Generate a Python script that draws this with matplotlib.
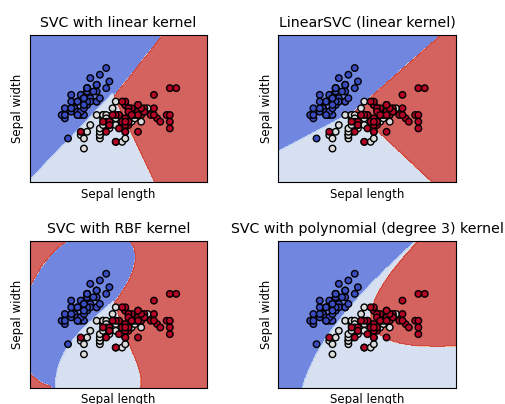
import numpy as np
import matplotlib
matplotlib.use("Agg")
import matplotlib.pyplot as plt

# iris data set, first two features (sepal length, sepal width)
setosa_length = [5.1, 4.9, 4.7, 4.6, 5.0, 5.4, 4.6, 5.0, 4.4, 4.9,
                 5.4, 4.8, 4.8, 4.3, 5.8, 5.7, 5.4, 5.1, 5.7, 5.1,
                 5.4, 5.1, 4.6, 5.1, 4.8, 5.0, 5.0, 5.2, 5.2, 4.7,
                 4.8, 5.4, 5.2, 5.5, 4.9, 5.0, 5.5, 4.9, 4.4, 5.1,
                 5.0, 4.5, 4.4, 5.0, 5.1, 4.8, 5.1, 4.6, 5.3, 5.0]
setosa_width = [3.5, 3.0, 3.2, 3.1, 3.6, 3.9, 3.4, 3.4, 2.9, 3.1,
                3.7, 3.4, 3.0, 3.0, 4.0, 4.4, 3.9, 3.5, 3.8, 3.8,
                3.4, 3.7, 3.6, 3.3, 3.4, 3.0, 3.4, 3.5, 3.4, 3.2,
                3.1, 3.4, 4.1, 4.2, 3.1, 3.2, 3.5, 3.6, 3.0, 3.4,
                3.5, 2.3, 3.2, 3.5, 3.8, 3.0, 3.8, 3.2, 3.7, 3.3]
versicolor_length = [7.0, 6.4, 6.9, 5.5, 6.5, 5.7, 6.3, 4.9, 6.6, 5.2,
                     5.0, 5.9, 6.0, 6.1, 5.6, 6.7, 5.6, 5.8, 6.2, 5.6,
                     5.9, 6.1, 6.3, 6.1, 6.4, 6.6, 6.8, 6.7, 6.0, 5.7,
                     5.5, 5.5, 5.8, 6.0, 5.4, 6.0, 6.7, 6.3, 5.6, 5.5,
                     5.5, 6.1, 5.8, 5.0, 5.6, 5.7, 5.7, 6.2, 5.1, 5.7]
versicolor_width = [3.2, 3.2, 3.1, 2.3, 2.8, 2.8, 3.3, 2.4, 2.9, 2.7,
                    2.0, 3.0, 2.2, 2.9, 2.9, 3.1, 3.0, 2.7, 2.2, 2.5,
                    3.2, 2.8, 2.5, 2.8, 2.9, 3.0, 2.8, 3.0, 2.9, 2.6,
                    2.4, 2.4, 2.7, 2.7, 3.0, 3.4, 3.1, 2.3, 3.0, 2.5,
                    2.6, 3.0, 2.6, 2.3, 2.7, 3.0, 2.9, 2.9, 2.5, 2.8]
virginica_length = [6.3, 5.8, 7.1, 6.3, 6.5, 7.6, 4.9, 7.3, 6.7, 7.2,
                    6.5, 6.4, 6.8, 5.7, 5.8, 6.4, 6.5, 7.7, 7.7, 6.0,
                    6.9, 5.6, 7.7, 6.3, 6.7, 7.2, 6.2, 6.1, 6.4, 7.2,
                    7.4, 7.9, 6.4, 6.3, 6.1, 7.7, 6.3, 6.4, 6.0, 6.9,
                    6.7, 6.9, 5.8, 6.8, 6.7, 6.7, 6.3, 6.5, 6.2, 5.9]
virginica_width = [3.3, 2.7, 3.0, 2.9, 3.0, 3.0, 2.5, 2.9, 2.5, 3.6,
                   3.2, 2.7, 3.0, 2.5, 2.8, 3.2, 3.0, 3.8, 2.6, 2.2,
                   3.2, 2.8, 2.8, 2.7, 3.3, 3.2, 2.8, 3.0, 2.8, 3.0,
                   2.8, 3.8, 2.8, 2.8, 2.6, 3.0, 3.4, 3.1, 3.0, 3.1,
                   3.1, 3.1, 2.7, 3.2, 3.3, 3.0, 2.5, 3.0, 3.4, 3.0]

titles = ["SVC with linear kernel",
          "LinearSVC (linear kernel)",
          "SVC with RBF kernel",
          "SVC with polynomial (degree 3) kernel"]

C = 1.0          # SVM regularization parameter
rbf_gamma = 0.7
poly_degree = 3
poly_gamma = 0.5
h = 0.02         # step size in the mesh


def kernel(A, B, kind):
    if kind == "linear":
        return A @ B.T
    if kind == "rbf":
        d2 = (A ** 2).sum(1)[:, None] + (B ** 2).sum(1)[None, :] - 2 * A @ B.T
        return np.exp(-rbf_gamma * d2)
    return (poly_gamma * A @ B.T) ** poly_degree


def fit_binary_svc(X, y, kind, eps=1e-3, max_iter=300000):
    """SMO on the C-SVC dual (second order working set selection)."""
    K = kernel(X, X, kind)
    Q = (y[:, None] * y[None, :]) * K
    kd = np.diag(K)
    a = np.zeros(len(y))
    G = -np.ones(len(y))
    for _ in range(max_iter):
        up = ((y > 0) & (a < C)) | ((y < 0) & (a > 0))
        low = ((y < 0) & (a < C)) | ((y > 0) & (a > 0))
        v = -y * G
        i = np.argmax(np.where(up, v, -np.inf))
        if v[i] - np.min(np.where(low, v, np.inf)) < eps:
            break
        b = v[i] - v
        curv = kd[i] + kd - 2 * K[i]
        curv[curv <= 0] = 1e-12
        j = np.argmin(np.where(low & (b > 0), -(b * b) / curv, np.inf))
        t = b[j] / curv[j]
        t = min(t, C - a[i] if y[i] > 0 else a[i], a[j] if y[j] > 0 else C - a[j])
        a[i] += t * y[i]
        a[j] -= t * y[j]
        G += t * (y[i] * Q[:, i] - y[j] * Q[:, j])
    yG = y * G
    free = (a > 0) & (a < C)
    if free.any():
        rho = yG[free].mean()
    else:
        at_up = a >= C
        ub_mask = (at_up & (y < 0)) | (~at_up & (y > 0))
        lb_mask = ~ub_mask
        rho = (yG[ub_mask].min() + yG[lb_mask].max()) / 2
    return a * y, rho


def svc_predict(X, labels, kind, P):
    # one-vs-one voting, like libsvm
    classes = np.unique(labels)
    votes = np.zeros((len(P), len(classes)))
    for p in range(len(classes)):
        for q in range(p + 1, len(classes)):
            m = (labels == classes[p]) | (labels == classes[q])
            y = np.where(labels[m] == classes[p], 1.0, -1.0)
            coef, rho = fit_binary_svc(X[m], y, kind)
            dec = kernel(P, X[m], kind) @ coef - rho
            votes[:, p] += dec > 0
            votes[:, q] += dec <= 0
    return classes[np.argmax(votes, axis=1)]


def linear_svc_predict(X, labels, P, tol=1e-4, max_iter=1000):
    # one-vs-rest, squared hinge loss, dual coordinate descent (liblinear)
    classes = np.unique(labels)
    Xa = np.hstack([X, np.ones((len(X), 1))])
    Pa = np.hstack([P, np.ones((len(P), 1))])
    D = 0.5 / C
    Qd = (Xa ** 2).sum(1) + D
    rng = np.random.default_rng(0)
    scores = []
    for k in classes:
        y = np.where(labels == k, 1.0, -1.0)
        alpha = np.zeros(len(y))
        w = np.zeros(Xa.shape[1])
        for _ in range(max_iter):
            pg_max, pg_min = -np.inf, np.inf
            for i in rng.permutation(len(y)):
                g = y[i] * (w @ Xa[i]) - 1 + D * alpha[i]
                pg = min(g, 0.0) if alpha[i] == 0 else g
                pg_max = max(pg_max, pg)
                pg_min = min(pg_min, pg)
                if abs(pg) > 1e-12:
                    old = alpha[i]
                    alpha[i] = max(old - g / Qd[i], 0.0)
                    w += (alpha[i] - old) * y[i] * Xa[i]
            if pg_max - pg_min < tol:
                break
        scores.append(Pa @ w)
    return classes[np.argmax(np.array(scores), axis=0)]


X = np.column_stack([setosa_length + versicolor_length + virginica_length,
                     setosa_width + versicolor_width + virginica_width])
labels = np.repeat([0, 1, 2], [len(setosa_length), len(versicolor_length),
                               len(virginica_length)])

x_min, x_max = X[:, 0].min() - 1, X[:, 0].max() + 1
y_min, y_max = X[:, 1].min() - 1, X[:, 1].max() + 1
xx, yy = np.meshgrid(np.arange(x_min, x_max, h), np.arange(y_min, y_max, h))
grid = np.c_[xx.ravel(), yy.ravel()]

predictions = [
    svc_predict(X, labels, "linear", grid),
    linear_svc_predict(X, labels, grid),
    svc_predict(X, labels, "rbf", grid),
    svc_predict(X, labels, "poly", grid),
]

fig = plt.figure(figsize=(5.06, 4.04), dpi=100)
plt.subplots_adjust(left=0.059, right=0.901, bottom=0.04, top=0.913,
                    wspace=0.4, hspace=0.4)

for i, Z in enumerate(predictions):
    plt.subplot(2, 2, i + 1)
    Z = Z.reshape(xx.shape)
    plt.contourf(xx, yy, Z, cmap=plt.cm.coolwarm, alpha=0.8)
    plt.scatter(X[:, 0], X[:, 1], c=labels, cmap=plt.cm.coolwarm,
                s=22, edgecolors="k", linewidths=1.0)
    plt.xlabel("Sepal length", fontsize=8.5)
    plt.ylabel("Sepal width", fontsize=8.5)
    plt.xlim(xx.min(), xx.max())
    plt.ylim(yy.min(), yy.max())
    plt.xticks(())
    plt.yticks(())
    plt.title(titles[i], fontsize=10.2)

plt.savefig("out.png", dpi=100)
